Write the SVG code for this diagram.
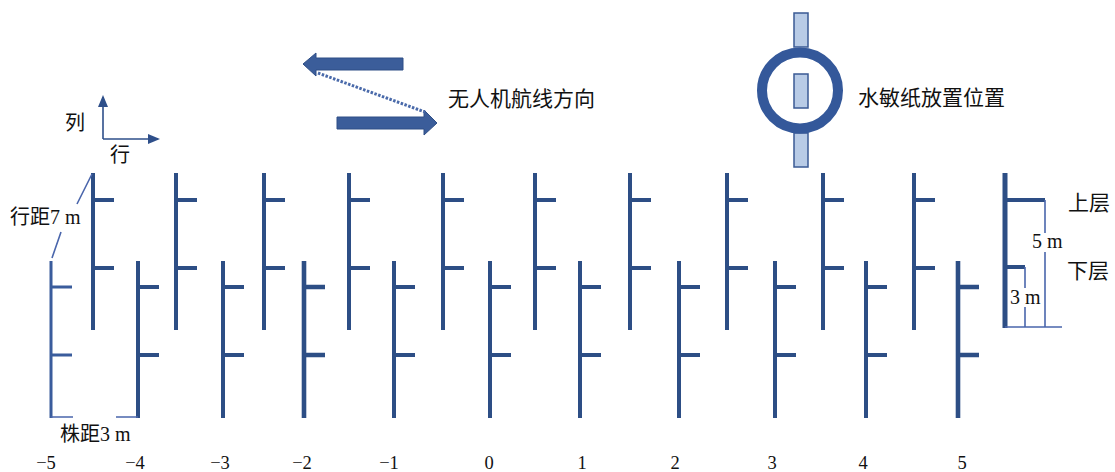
<svg xmlns="http://www.w3.org/2000/svg" xmlns:xlink="http://www.w3.org/1999/xlink" width="1115" height="472" viewBox="0 0 1115 472">
<style>
.tree{fill:none;stroke:#2d4e85;stroke-width:4}
.thin{fill:none;stroke:#4a66ac;stroke-width:1.6}
.txt{font-family:"Liberation Serif","Noto Sans CJK SC",serif;fill:#111}
.num{font-family:"Liberation Serif","Noto Sans CJK SC",serif;font-size:18.5px;fill:#111;text-anchor:middle}
.paper{fill:#b8cbe6;stroke:#3a5a94;stroke-width:1.5}
.axis{fill:none;stroke:#2e4f8a;stroke-width:1.6}
</style>
<defs>
<path id="up" d="M0 0V157M0 27H21M0 95H21"/>
<path id="low" d="M0 0V157M0 26H21M0 94H21"/>
<marker id="ah" markerWidth="12" markerHeight="12" refX="10" refY="5" orient="auto" markerUnits="userSpaceOnUse" viewBox="0 0 12 10">
<path d="M0 0L12 5L0 10z" fill="#2e4f8a"/>
</marker>
</defs>
<rect width="1115" height="472" fill="#fff"/>

<g id="axes">
<path class="axis" d="M103 139V97" marker-end="url(#ah)"/>
<path class="axis" d="M103 139H158" marker-end="url(#ah)"/>
<text class="txt" x="75" y="130" font-size="20" text-anchor="middle">列</text>
<text class="txt" x="120" y="162" font-size="20" text-anchor="middle">行</text>
</g>

<g id="uav-route">
<polygon points="303,64 316,53 316,58 403,58 403,70 316,70 316,76" fill="#3b5d9a" stroke="#2f4f86" stroke-width="1"/>
<polygon points="337,117 424,117 424,110 437,123 424,135 424,129 337,129" fill="#3b5d9a" stroke="#2f4f86" stroke-width="1"/>
<line x1="318" y1="73" x2="425" y2="112" stroke="#4a6aaa" stroke-width="3" stroke-dasharray="2.5 1.5"/>
<text class="txt" x="448" y="106" font-size="21">无人机航线方向</text>
</g>

<g id="paper-legend">
<rect class="paper" x="794" y="13" width="14" height="34"/>
<rect class="paper" x="794" y="133" width="14" height="34"/>
<circle cx="800" cy="90.5" r="38" fill="none" stroke="#34589a" stroke-width="10"/>
<rect class="paper" x="794" y="74" width="14" height="34"/>
<text class="txt" x="858" y="105" font-size="21">水敏纸放置位置</text>
</g>

<g id="upper-row">
<use id="u-5" href="#up" class="tree" x="93" y="173"/>
<use id="u-4" href="#up" class="tree" x="176" y="173"/>
<use id="u-3" href="#up" class="tree" x="264" y="173"/>
<use id="u-2" href="#up" class="tree" x="349" y="173"/>
<use id="u-1" href="#up" class="tree" x="443" y="173"/>
<use id="u0" href="#up" class="tree" x="535" y="173"/>
<use id="u1" href="#up" class="tree" x="630" y="173"/>
<use id="u2" href="#up" class="tree" x="727" y="173"/>
<use id="u3" href="#up" class="tree" x="823" y="173"/>
<use id="u4" href="#up" class="tree" x="914" y="173"/>
</g>

<g id="lower-row">
<use id="l-5" href="#low" class="tree" x="51" y="261" style="stroke:#3a5c9c;stroke-width:3"/>
<use id="l-4" href="#low" class="tree" x="138" y="261"/>
<use id="l-3" href="#low" class="tree" x="223" y="261"/>
<use id="l-2" href="#low" class="tree" x="304" y="261" style="stroke-width:4.6"/>
<use id="l-1" href="#low" class="tree" x="394" y="261"/>
<use id="l0" href="#low" class="tree" x="490" y="261"/>
<use id="l1" href="#low" class="tree" x="580" y="261"/>
<use id="l2" href="#low" class="tree" x="679" y="261"/>
<use id="l3" href="#low" class="tree" x="775" y="261"/>
<use id="l4" href="#low" class="tree" x="866" y="261"/>
<use id="l5" href="#low" class="tree" x="958" y="261" style="stroke-width:4.6"/>
</g>

<g id="height-legend">
<path class="tree" style="stroke-width:5" d="M1005 173V328"/>
<path class="tree" d="M1005 200H1045M1005 267H1025"/>
<path class="thin" d="M1045 200V327M1025 267V327M1005 327H1062"/>
<rect x="1031" y="233" width="33" height="19" fill="#fff"/>
<text class="txt" x="1032" y="248" font-size="20">5 m</text>
<rect x="1009" y="288" width="34" height="19" fill="#fff"/>
<text class="txt" x="1010" y="304" font-size="20">3 m</text>
<text class="txt" x="1068" y="210" font-size="21">上层</text>
<text class="txt" x="1067" y="278" font-size="21">下层</text>
</g>

<g id="spacing">
<path class="thin" d="M92 174L77 204M61 232L52 258"/>
<text class="txt" x="10" y="224" font-size="20">行距7 m</text>
<path class="thin" d="M51 417H73M116 417H138"/>
<text class="txt" x="60" y="441" font-size="20">株距3 m</text>
</g>

<g id="row-numbers">
<text class="num" x="46" y="469">−5</text>
<text class="num" x="135" y="469">−4</text>
<text class="num" x="220" y="469">−3</text>
<text class="num" x="302" y="469">−2</text>
<text class="num" x="389" y="469">−1</text>
<text class="num" x="489" y="469">0</text>
<text class="num" x="582" y="469">1</text>
<text class="num" x="675" y="469">2</text>
<text class="num" x="772" y="469">3</text>
<text class="num" x="863" y="469">4</text>
<text class="num" x="962" y="469">5</text>
</g>
</svg>
